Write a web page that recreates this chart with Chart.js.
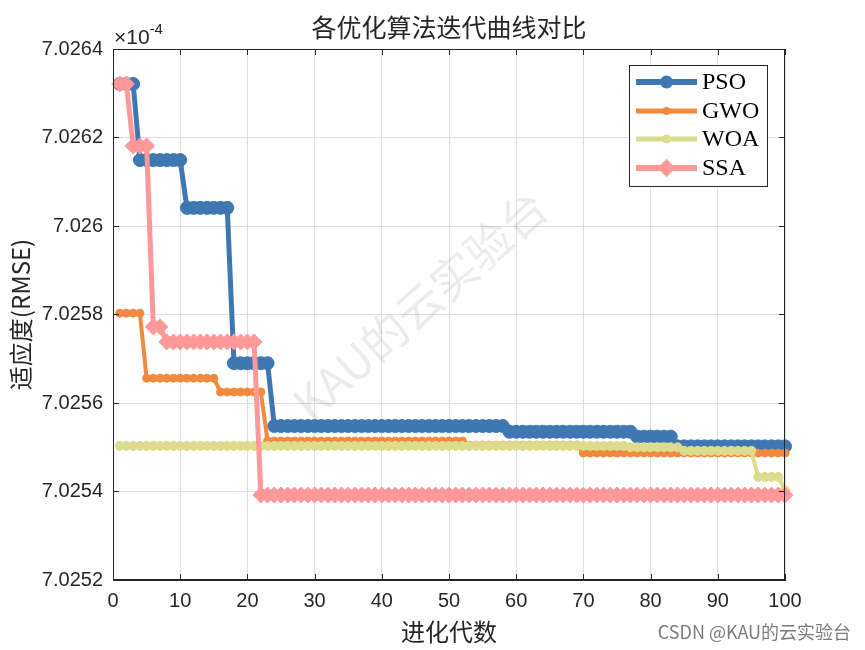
<!DOCTYPE html>
<html>
<head>
<meta charset="utf-8">
<script src="https://cdn.jsdelivr.net/npm/chart.js@4/dist/chart.umd.min.js"></script>
<style>
  html, body { margin: 0; padding: 0; background: #fff; }
  #wrap { width: 865px; height: 650px; }
</style>
</head>
<body>
<div id="wrap"><canvas id="curveChart" width="865" height="650"></canvas></div>
<script>
// 进化代数 1..100
const generations = [
  1, 2, 3, 4, 5, 6, 7, 8, 9, 10,
  11, 12, 13, 14, 15, 16, 17, 18, 19, 20,
  21, 22, 23, 24, 25, 26, 27, 28, 29, 30,
  31, 32, 33, 34, 35, 36, 37, 38, 39, 40,
  41, 42, 43, 44, 45, 46, 47, 48, 49, 50,
  51, 52, 53, 54, 55, 56, 57, 58, 59, 60,
  61, 62, 63, 64, 65, 66, 67, 68, 69, 70,
  71, 72, 73, 74, 75, 76, 77, 78, 79, 80,
  81, 82, 83, 84, 85, 86, 87, 88, 89, 90,
  91, 92, 93, 94, 95, 96, 97, 98, 99, 100
];

// fitness values, in units of 1e-4
const psoValues = [
  7.026321, 7.026321, 7.026321, 7.026149, 7.026149, 7.026149, 7.026149, 7.026149, 7.026149, 7.026149,
  7.026041, 7.026041, 7.026041, 7.026041, 7.026041, 7.026041, 7.026041, 7.025690, 7.025690, 7.025690,
  7.025690, 7.025690, 7.025690, 7.025548, 7.025548, 7.025548, 7.025548, 7.025548, 7.025548, 7.025548,
  7.025548, 7.025548, 7.025548, 7.025548, 7.025548, 7.025548, 7.025548, 7.025548, 7.025548, 7.025548,
  7.025548, 7.025548, 7.025548, 7.025548, 7.025548, 7.025548, 7.025548, 7.025548, 7.025548, 7.025548,
  7.025548, 7.025548, 7.025548, 7.025548, 7.025548, 7.025548, 7.025548, 7.025548, 7.025535, 7.025535,
  7.025535, 7.025535, 7.025535, 7.025535, 7.025535, 7.025535, 7.025535, 7.025535, 7.025535, 7.025535,
  7.025535, 7.025535, 7.025535, 7.025535, 7.025535, 7.025535, 7.025535, 7.025524, 7.025524, 7.025524,
  7.025524, 7.025524, 7.025524, 7.025502, 7.025502, 7.025502, 7.025502, 7.025502, 7.025502, 7.025502,
  7.025502, 7.025502, 7.025502, 7.025502, 7.025502, 7.025502, 7.025502, 7.025502, 7.025502, 7.025502
];
const gwoValues = [
  7.025803, 7.025803, 7.025803, 7.025803, 7.025656, 7.025656, 7.025656, 7.025656, 7.025656, 7.025656,
  7.025656, 7.025656, 7.025656, 7.025656, 7.025656, 7.025625, 7.025625, 7.025625, 7.025625, 7.025625,
  7.025625, 7.025625, 7.025514, 7.025514, 7.025514, 7.025514, 7.025514, 7.025514, 7.025514, 7.025514,
  7.025514, 7.025514, 7.025514, 7.025514, 7.025514, 7.025514, 7.025514, 7.025514, 7.025514, 7.025514,
  7.025514, 7.025514, 7.025514, 7.025514, 7.025514, 7.025514, 7.025514, 7.025514, 7.025514, 7.025514,
  7.025514, 7.025514, 7.025505, 7.025505, 7.025505, 7.025505, 7.025505, 7.025505, 7.025505, 7.025505,
  7.025505, 7.025505, 7.025505, 7.025505, 7.025505, 7.025505, 7.025505, 7.025505, 7.025505, 7.025487,
  7.025487, 7.025487, 7.025487, 7.025487, 7.025487, 7.025487, 7.025487, 7.025487, 7.025487, 7.025487,
  7.025487, 7.025487, 7.025487, 7.025487, 7.025487, 7.025487, 7.025487, 7.025487, 7.025487, 7.025487,
  7.025487, 7.025487, 7.025487, 7.025487, 7.025487, 7.025487, 7.025487, 7.025487, 7.025487, 7.025487
];
const woaValues = [
  7.025503, 7.025503, 7.025503, 7.025503, 7.025503, 7.025503, 7.025503, 7.025503, 7.025503, 7.025503,
  7.025503, 7.025503, 7.025503, 7.025503, 7.025503, 7.025503, 7.025503, 7.025503, 7.025503, 7.025503,
  7.025503, 7.025503, 7.025503, 7.025503, 7.025503, 7.025503, 7.025503, 7.025503, 7.025503, 7.025503,
  7.025503, 7.025503, 7.025503, 7.025503, 7.025503, 7.025503, 7.025503, 7.025503, 7.025503, 7.025503,
  7.025503, 7.025503, 7.025503, 7.025503, 7.025503, 7.025503, 7.025503, 7.025503, 7.025503, 7.025503,
  7.025503, 7.025503, 7.025503, 7.025503, 7.025503, 7.025503, 7.025503, 7.025503, 7.025503, 7.025503,
  7.025503, 7.025503, 7.025503, 7.025503, 7.025503, 7.025503, 7.025503, 7.025503, 7.025503, 7.025503,
  7.025503, 7.025503, 7.025503, 7.025503, 7.025503, 7.025503, 7.025500, 7.025500, 7.025500, 7.025500,
  7.025500, 7.025500, 7.025500, 7.025500, 7.025492, 7.025492, 7.025492, 7.025492, 7.025492, 7.025492,
  7.025492, 7.025492, 7.025492, 7.025492, 7.025492, 7.025433, 7.025433, 7.025433, 7.025433, 7.025403
];
const ssaValues = [
  7.026321, 7.026321, 7.026181, 7.026181, 7.026181, 7.025772, 7.025772, 7.025738, 7.025738, 7.025738,
  7.025738, 7.025738, 7.025738, 7.025738, 7.025738, 7.025738, 7.025738, 7.025738, 7.025738, 7.025738,
  7.025738, 7.025392, 7.025392, 7.025392, 7.025392, 7.025392, 7.025392, 7.025392, 7.025392, 7.025392,
  7.025392, 7.025392, 7.025392, 7.025392, 7.025392, 7.025392, 7.025392, 7.025392, 7.025392, 7.025392,
  7.025392, 7.025392, 7.025392, 7.025392, 7.025392, 7.025392, 7.025392, 7.025392, 7.025392, 7.025392,
  7.025392, 7.025392, 7.025392, 7.025392, 7.025392, 7.025392, 7.025392, 7.025392, 7.025392, 7.025392,
  7.025392, 7.025392, 7.025392, 7.025392, 7.025392, 7.025392, 7.025392, 7.025392, 7.025392, 7.025392,
  7.025392, 7.025392, 7.025392, 7.025392, 7.025392, 7.025392, 7.025392, 7.025392, 7.025392, 7.025392,
  7.025392, 7.025392, 7.025392, 7.025392, 7.025392, 7.025392, 7.025392, 7.025392, 7.025392, 7.025392,
  7.025392, 7.025392, 7.025392, 7.025392, 7.025392, 7.025392, 7.025392, 7.025392, 7.025392, 7.025392
];

const seriesNames = ['PSO', 'GWO', 'WOA', 'SSA'];
const xTicks = [0, 10, 20, 30, 40, 50, 60, 70, 80, 90, 100];
const yTicks = [7.0252, 7.0254, 7.0256, 7.0258, 7.026, 7.0262, 7.0264];
const yTickLabels = ['7.0252', '7.0254', '7.0256', '7.0258', '7.026', '7.0262', '7.0264'];

const axisColor = '#262626';
const tickFont = { family: '"Liberation Sans", Arial, sans-serif', size: 20 };

function makeSet(label, data, color, style, radius, width, order) {
    return {
        label: label,
        data: data,
        borderColor: color,
        backgroundColor: color,
        borderWidth: width,
        pointStyle: style,
        pointRadius: radius,
        pointHoverRadius: radius,
        pointBackgroundColor: color,
        pointBorderColor: color,
        pointBorderWidth: 1,
        tension: 0,
        fill: false,
        clip: false,
        order: order
    };
}

const datasets = [
    makeSet(seriesNames[0], psoValues, '#3f77b2', 'circle', 6.5, 5, 4),
    makeSet(seriesNames[1], gwoValues, '#f08a3e', 'circle', 4, 4, 3),
    makeSet(seriesNames[2], woaValues, '#dcdc8c', 'circle', 4.5, 4, 2),
    makeSet(seriesNames[3], ssaValues, '#ff9898', 'rectRot', 8, 5, 1)
];

function drawMarker(ctx, style, x, y, r, color) {
    ctx.fillStyle = color;
    ctx.beginPath();
    if (style === 'rectRot') {
        ctx.moveTo(x, y - r);
        ctx.lineTo(x + r, y);
        ctx.lineTo(x, y + r);
        ctx.lineTo(x - r, y);
        ctx.closePath();
    } else {
        ctx.arc(x, y, r, 0, Math.PI * 2);
    }
    ctx.fill();
}

const decorPlugin = {
    id: 'decor',
    afterDraw(chart) {
        const ctx = chart.ctx;
        const area = chart.chartArea;
        const xs = chart.scales.x;
        const ys = chart.scales.y;
        ctx.save();

        // box and inward ticks
        ctx.strokeStyle = axisColor;
        ctx.lineWidth = 1;
        ctx.strokeRect(area.left + 0.5, area.top + 0.5, area.right - area.left - 1, area.bottom - area.top - 1);
        ctx.beginPath();
        xTicks.forEach(v => {
            const px = Math.round(xs.getPixelForValue(v)) + 0.5;
            ctx.moveTo(px, area.bottom); ctx.lineTo(px, area.bottom - 6);
            ctx.moveTo(px, area.top); ctx.lineTo(px, area.top + 6);
        });
        yTicks.forEach(v => {
            const py = Math.round(ys.getPixelForValue(v)) + 0.5;
            ctx.moveTo(area.left, py); ctx.lineTo(area.left + 6, py);
            ctx.moveTo(area.right, py); ctx.lineTo(area.right - 6, py);
        });
        ctx.stroke();

        // watermark
        ctx.save();
        ctx.translate(420, 305);
        ctx.rotate(-0.72);
        ctx.fillStyle = 'rgba(120,120,120,0.15)';
        ctx.font = '46px "Noto Sans CJK SC", sans-serif';
        ctx.textAlign = 'center';
        ctx.textBaseline = 'middle';
        ctx.fillText('KAU的云实验台', 0, 0);
        ctx.restore();

        // title
        ctx.fillStyle = axisColor;
        ctx.textAlign = 'center';
        ctx.textBaseline = 'middle';
        ctx.font = '25px "Noto Sans CJK SC", sans-serif';
        ctx.fillText('各优化算法迭代曲线对比', (area.left + area.right) / 2, 27);

        // axis titles
        ctx.font = '24px "Noto Sans CJK SC", sans-serif';
        ctx.fillText('进化代数', (area.left + area.right) / 2, 632);
        ctx.save();
        ctx.translate(21, (area.top + area.bottom) / 2);
        ctx.rotate(-Math.PI / 2);
        ctx.fillText('适应度(RMSE)', 0, 0);
        ctx.restore();

        // exponent
        ctx.textAlign = 'left';
        ctx.textBaseline = 'alphabetic';
        ctx.font = '21px "Liberation Sans", Arial, sans-serif';
        ctx.fillText('\u00d710', area.left + 1, 44);
        const w = ctx.measureText('\u00d710').width;
        ctx.font = '15px "Liberation Sans", Arial, sans-serif';
        ctx.fillText('-4', area.left + 1 + w, 34);

        // legend
        const box = { x: 629, y: 65, w: 138, h: 121 };
        ctx.fillStyle = '#ffffff';
        ctx.fillRect(box.x, box.y, box.w, box.h);
        ctx.strokeStyle = axisColor;
        ctx.strokeRect(box.x + 0.5, box.y + 0.5, box.w, box.h);
        const rowY = [82, 111, 139, 168];
        datasets.forEach((ds, i) => {
            const y = rowY[i];
            ctx.strokeStyle = ds.borderColor;
            ctx.lineWidth = ds.borderWidth + 1;
            ctx.beginPath();
            ctx.moveTo(636, y); ctx.lineTo(697, y);
            ctx.stroke();
            drawMarker(ctx, ds.pointStyle, 666.5, y, ds.pointStyle === 'rectRot' ? 9 : ds.pointRadius, ds.borderColor);
            ctx.fillStyle = '#000';
            ctx.font = '24px "Liberation Serif", "Times New Roman", serif';
            ctx.textBaseline = 'middle';
            ctx.fillText(ds.label, 702, y + 1);
        });

        // site mark
        ctx.fillStyle = 'rgba(110,110,110,0.9)';
        ctx.font = '18px "Noto Sans CJK SC", sans-serif';
        ctx.textAlign = 'right';
        ctx.textBaseline = 'middle';
        ctx.fillText('CSDN @KAU的云实验台', 851, 632);

        ctx.restore();
    }
};

const curveChart = new Chart(document.getElementById('curveChart'), {
    type: 'line',
    data: {
        labels: generations,
        datasets: datasets
    },
    options: {
        responsive: false,
        animation: false,
        layout: { padding: { left: 0, right: 80, top: 49, bottom: 0 } },
        plugins: {
            legend: { display: false },
            title: { display: false },
            tooltip: { enabled: false }
        },
        scales: {
            x: {
                type: 'linear',
                min: 0,
                max: 100,
                afterFit: s => { s.height = 70; },
                afterBuildTicks: s => { s.ticks = xTicks.map(v => ({ value: v })); },
                grid: { color: '#dedede', drawTicks: false },
                border: { display: true, color: axisColor, width: 1 },
                ticks: {
                    color: axisColor,
                    font: tickFont,
                    padding: 9,
                    maxRotation: 0,
                    callback: (v, i) => String(xTicks[i])
                }
            },
            y: {
                type: 'linear',
                min: 7.0252,
                max: 7.0264,
                afterFit: s => { s.width = 113; },
                afterBuildTicks: s => { s.ticks = yTicks.map(v => ({ value: v })); },
                grid: { color: '#dedede', drawTicks: false },
                border: { display: true, color: axisColor, width: 1 },
                ticks: {
                    color: axisColor,
                    font: tickFont,
                    padding: 10,
                    callback: (v, i) => yTickLabels[i]
                }
            }
        }
    },
    plugins: [decorPlugin]
});
</script>
</body>
</html>
